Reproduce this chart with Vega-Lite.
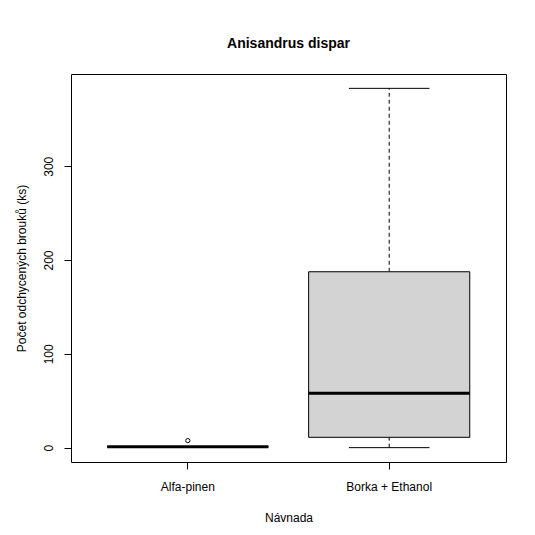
{
  "$schema": "https://vega.github.io/schema/vega-lite/v6.json",
  "width": 435,
  "height": 388,
  "autosize": {"type": "none"},
  "padding": {"left": 71, "top": 74, "right": 29, "bottom": 73},
  "background": "white",
  "title": {
    "text": "Anisandrus dispar",
    "font": "Liberation Sans",
    "fontSize": 14,
    "fontWeight": "bold",
    "color": "black",
    "anchor": "middle",
    "baseline": "alphabetic",
    "offset": 12
  },
  "config": {
    "view": {"stroke": "black", "strokeWidth": 1},
    "font": "Liberation Sans",
    "axis": {
      "labelFont": "Liberation Sans",
      "titleFont": "Liberation Sans",
      "labelFontSize": 12,
      "titleFontSize": 12,
      "titleFontWeight": "normal",
      "labelColor": "black",
      "titleColor": "black",
      "tickColor": "black",
      "tickSize": 7,
      "domain": false,
      "grid": false
    }
  },
  "datasets": {
    "stats": [
      {"group": "Alfa-pinen", "min": 1, "q1": 1, "median": 1, "q3": 1, "max": 1},
      {"group": "Borka + Ethanol", "min": 0, "q1": 11, "median": 58, "q3": 187.5, "max": 383}
    ],
    "outliers": [
      {"group": "Alfa-pinen", "value": 7.5}
    ]
  },
  "encoding": {
    "x": {
      "field": "group",
      "type": "nominal",
      "scale": {"domain": ["Alfa-pinen", "Borka + Ethanol"], "paddingInner": 0.2, "paddingOuter": 0.18},
      "axis": {"title": "Návnada", "labelAngle": 0, "labelPadding": 12, "titlePadding": 20}
    }
  },
  "layer": [
    {
      "data": {"name": "stats"},
      "mark": {"type": "rule", "color": "black", "strokeWidth": 1, "strokeDash": [4, 3]},
      "encoding": {
        "x": {"field": "group", "type": "nominal", "bandPosition": 0.5},
        "y": {"field": "min", "type": "quantitative", "scale": {"domain": [-15.3, 398.3], "nice": false, "zero": false},
          "axis": {"values": [0, 100, 200, 300], "title": "Počet odchycených brouků (ks)", "labelAngle": -90, "labelAlign": "center", "labelBaseline": "bottom", "labelPadding": 9, "titlePadding": 14}},
        "y2": {"field": "q1"}
      }
    },
    {
      "data": {"name": "stats"},
      "mark": {"type": "rule", "color": "black", "strokeWidth": 1, "strokeDash": [4, 3]},
      "encoding": {
        "x": {"field": "group", "type": "nominal", "bandPosition": 0.5},
        "y": {"field": "q3", "type": "quantitative"},
        "y2": {"field": "max"}
      }
    },
    {
      "data": {"name": "stats"},
      "mark": {"type": "rule", "color": "black", "strokeWidth": 1},
      "encoding": {
        "x": {"field": "group", "type": "nominal", "bandPosition": 0.25},
        "x2": {"field": "group", "bandPosition": 0.75},
        "y": {"field": "min", "type": "quantitative"}
      }
    },
    {
      "data": {"name": "stats"},
      "mark": {"type": "rule", "color": "black", "strokeWidth": 1},
      "encoding": {
        "x": {"field": "group", "type": "nominal", "bandPosition": 0.25},
        "x2": {"field": "group", "bandPosition": 0.75},
        "y": {"field": "max", "type": "quantitative"}
      }
    },
    {
      "data": {"name": "stats"},
      "mark": {"type": "bar", "fill": "#D3D3D3", "stroke": "black", "strokeWidth": 1},
      "encoding": {
        "y": {"field": "q1", "type": "quantitative"},
        "y2": {"field": "q3"}
      }
    },
    {
      "data": {"name": "stats"},
      "mark": {"type": "rule", "color": "black", "strokeWidth": 3},
      "encoding": {
        "x": {"field": "group", "type": "nominal", "bandPosition": 0},
        "x2": {"field": "group", "bandPosition": 1},
        "y": {"field": "median", "type": "quantitative"}
      }
    },
    {
      "data": {"name": "outliers"},
      "mark": {"type": "point", "shape": "circle", "filled": false, "stroke": "black", "strokeWidth": 1, "size": 18, "opacity": 1},
      "encoding": {
        "y": {"field": "value", "type": "quantitative"}
      }
    }
  ]
}
